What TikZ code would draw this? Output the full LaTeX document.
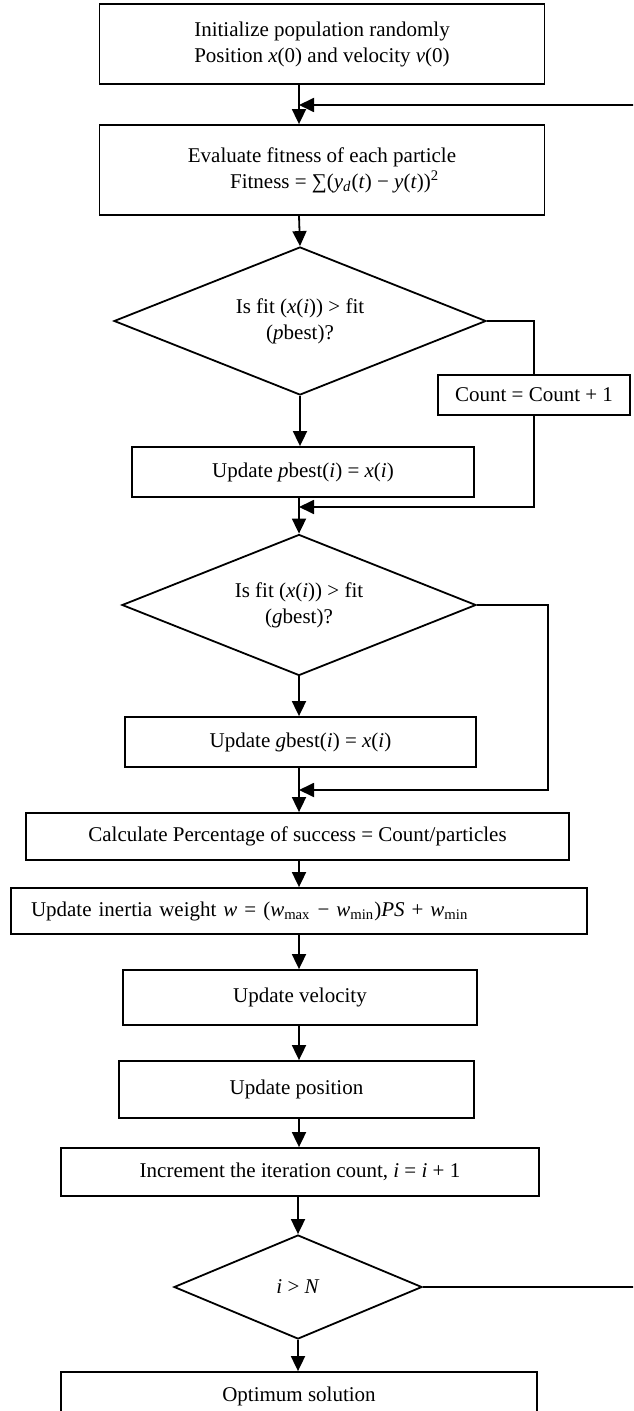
\documentclass[tikz,border=0pt]{standalone}
\usepackage{fontspec}
\setmainfont{Liberation Serif}
\usetikzlibrary{shapes.geometric,arrows.meta}
\begin{document}
\begin{tikzpicture}[x=0.5pt,y=-0.5pt,line width=0.9pt,
	font=\fontsize{10.5}{13}\selectfont,
	box/.style={draw,rectangle,align=center,inner sep=2pt},
	test/.style={draw,diamond,aspect=2.5,align=center,inner sep=0pt},
	arr/.style={-{Triangle[length=7.5pt,width=7pt]}}]

		\path[use as bounding box] (0,0) rectangle (633,1411);
		\clip (0,0) rectangle (633,1411);
		\coordinate (spine) at (299,0);
		\coordinate (loop) at (299,105);
		\coordinate (j1) at (299,507);
		\coordinate (j2) at (299,790);

		\node[box,minimum width=222.5pt,minimum height=40pt] (init) at (322,44)
		{Initialize population randomly\\Position \textit{x}(0) and velocity \textit{v}(0)};
		\node[box,minimum width=222.5pt,minimum height=45pt] (eval) at (322,170)
		{Evaluate fitness of each particle\\\hspace*{1.2em}Fitness = ∑(\textit{y}\textsubscript{\textit{d}}(\textit{t}) − \textit{y}(\textit{t}))\textsuperscript{2}};
		\node[test,minimum width=186pt,minimum height=74pt] (d1) at (300,321)
		{Is fit (\textit{x}(\textit{i})) > fit\\(\textit{p}best)?};
		\node[box,minimum width=96pt,minimum height=20pt] (count) at (534,395) {Count = Count + 1};
		\node[box,minimum width=171pt,minimum height=25pt] (pbest) at (303,472)
		{Update \textit{p}best(\textit{i}) = \textit{x}(\textit{i})};
		\node[test,minimum width=177pt,minimum height=70.5pt] (d2) at (299,605)
		{Is fit (\textit{x}(\textit{i})) > fit\\(\textit{g}best)?};
		\node[box,minimum width=175.5pt,minimum height=25pt] (gbest) at (300.5,742)
		{Update \textit{g}best(\textit{i}) = \textit{x}(\textit{i})};
		\node[box,minimum width=271.5pt,minimum height=23.5pt] (calc) at (297.5,836.5)
		{Calculate Percentage of success = Count/particles};
		\node[box,text width=268pt,align=left,inner xsep=10pt,minimum height=23pt] (inertia) at (299,911)
		{Update inertia weight \textit{w} = (\textit{w}\textsubscript{max} − \textit{w}\textsubscript{min})\textit{PS} + \textit{w}\textsubscript{min}};
		\node[box,minimum width=177pt,minimum height=27.5pt] (vel) at (300,997.5) {Update velocity};
		\node[box,minimum width=177.5pt,minimum height=28.5pt] (pos) at (296.5,1089.5) {Update position};
		\node[box,minimum width=239pt,minimum height=24pt] (inc) at (300,1172)
		{Increment the iteration count, \textit{i} = \textit{i} + 1};
		\node[test,aspect=2.4,minimum width=124pt,minimum height=52pt] (d3) at (298,1287) {\textit{i} > \textit{N}};
		\node[box,minimum width=238pt,minimum height=24pt] (opt) at (299,1396) {Optimum solution};

		\draw[arr] (init.south -| spine) -- (eval.north -| spine);
		\draw[arr] (d3.east) -- ++(240,0) |- (loop);
		\draw[arr] (eval.south -| spine) -- (d1.north);
		\draw (d1.east) -| (count.north);
		\draw[arr] (count.south) |- (j1);
		\draw[arr] (d1.south) -- (pbest.north -| d1.south);
		\draw[arr] (pbest.south -| spine) -- (d2.north);
		\draw[arr] (d2.east) -- ++(71,0) |- (j2);
		\draw[arr] (d2.south) -- (gbest.north -| d2.south);
		\draw[arr] (gbest.south -| spine) -- (calc.north -| spine);
		\draw[arr] (calc.south -| spine) -- (inertia.north -| spine);
		\draw[arr] (inertia.south -| spine) -- (vel.north -| spine);
		\draw[arr] (vel.south -| spine) -- (pos.north -| spine);
		\draw[arr] (pos.south -| spine) -- (inc.north -| spine);
		\draw[arr] (inc.south -| d3.north) -- (d3.north);
		\draw[arr] (d3.south) -- (opt.north -| d3.south);

\end{tikzpicture}
\end{document}
